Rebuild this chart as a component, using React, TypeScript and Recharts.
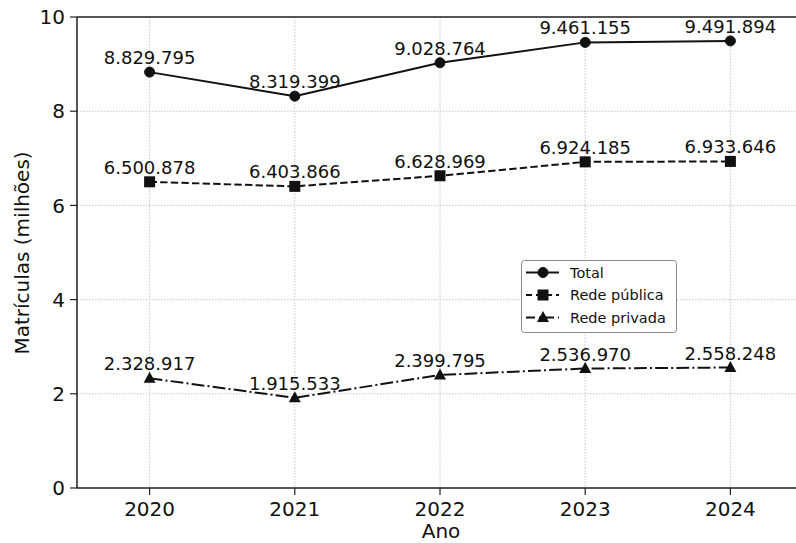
import React from 'react';
import {
  LineChart,
  Line,
  XAxis,
  YAxis,
  CartesianGrid,
  ReferenceLine,
  LabelList,
  Legend,
} from 'recharts';

const years = [2020, 2021, 2022, 2023, 2024];
const total = [8829795, 8319399, 9028764, 9461155, 9491894];
const publica = [6500878, 6403866, 6628969, 6924185, 6933646];
const privada = [2328917, 1915533, 2399795, 2536970, 2558248];
const yTicks = [0, 2, 4, 6, 8, 10];
const seriesNames = ['Total', 'Rede pública', 'Rede privada'];

const data = years.map((y, i) => ({
  year: y,
  total: total[i] / 1e6,
  publica: publica[i] / 1e6,
  privada: privada[i] / 1e6,
  totalRaw: total[i],
  publicaRaw: publica[i],
  privadaRaw: privada[i],
}));

const FONT = '"DejaVu Sans", sans-serif';
const INK = '#111';

const fmt = (v: number) => String(Math.round(v)).replace(/\B(?=(\d{3})+(?!\d))/g, '.');

const dashFor: Record<string, string | undefined> = {
  total: undefined,
  publica: '7.4 3.2',
  privada: '12.8 3.2 2 3.2',
};

const Marker = ({ kind, cx, cy }: { kind: string; cx: number; cy: number }) => {
  if (kind === 'total') return <circle cx={cx} cy={cy} r={5} fill={INK} stroke={INK} />;
  if (kind === 'publica')
    return <rect x={cx - 5.5} y={cy - 5.5} width={11} height={11} fill={INK} />;
  return (
    <polygon
      points={`${cx},${cy - 6.5} ${cx + 6},${cy + 4.5} ${cx - 6},${cy + 4.5}`}
      fill={INK}
    />
  );
};

const makeDot = (kind: string) => (props: any) => {
  const { cx, cy, index } = props;
  if (cx == null || cy == null) return <g key={`${kind}-${index}`} />;
  return (
    <g key={`${kind}-${index}`}>
      <Marker kind={kind} cx={cx} cy={cy} />
    </g>
  );
};

const makeLabel = (props: any) => {
  const { x, y, value, index } = props;
  return (
    <text
      key={index}
      x={x}
      y={y - 8}
      textAnchor="middle"
      fontFamily={FONT}
      fontSize={18}
      fill={INK}
    >
      {fmt(Number(value))}
    </text>
  );
};

const kinds = ['total', 'publica', 'privada'];

const LegendBox = () => (
  <svg width={156} height={74} style={{ display: 'block' }}>
    <rect x={0.5} y={0.5} width={155} height={72} rx={3} fill="#fff" stroke="#888" strokeWidth={1} />
    {kinds.map((k, i) => {
      const cy = 12.5 + i * 22.5;
      return (
        <g key={k}>
          <line
            x1={5}
            x2={38}
            y1={cy}
            y2={cy}
            stroke={INK}
            strokeWidth={2}
            strokeDasharray={k === 'total' ? undefined : k === 'publica' ? '6 4' : '9 4 2 4'}
          />
          <Marker kind={k} cx={22} cy={cy} />
          <text x={49} y={cy + 5} fontFamily={FONT} fontSize={14.5} fill={INK}>
            {seriesNames[i]}
          </text>
        </g>
      );
    })}
  </svg>
);

export default function App() {
  return (
    <div
      style={{
        position: 'absolute',
        left: 0,
        top: 0,
        width: 796,
        height: 543,
        overflow: 'hidden',
        background: '#fff',
      }}
    >
      <LineChart
        width={820}
        height={543}
        data={data}
        margin={{ top: 17, right: 17, bottom: 0, left: 0 }}
      >
        <CartesianGrid stroke="#c8c8c8" strokeDasharray="1.5 1.5" strokeWidth={1} />
        <XAxis
          dataKey="year"
          type="number"
          domain={[2019.5, 2024.5]}
          ticks={years}
          allowDataOverflow
          height={55}
          tickSize={7}
          tickMargin={7}
          axisLine={{ stroke: '#222', strokeWidth: 1.5 }}
          tickLine={{ stroke: '#222', strokeWidth: 1.2 }}
          tick={{ fontFamily: FONT, fontSize: 20, fill: INK }}
          label={(p: any) => {
            const vb = p.viewBox || {};
            return (
              <text
                x={vb.x + vb.width / 2 - (803 - 77) / 2 + (441 - 77)}
                y={538}
                textAnchor="middle"
                fontFamily={FONT}
                fontSize={20}
                fill={INK}
              >
                Ano
              </text>
            );
          }}
        />
        <YAxis
          type="number"
          domain={[0, 10]}
          ticks={yTicks}
          width={77}
          tickSize={7}
          tickMargin={5}
          axisLine={{ stroke: '#222', strokeWidth: 1.5 }}
          tickLine={{ stroke: '#222', strokeWidth: 1.2 }}
          tick={{ fontFamily: FONT, fontSize: 20, fill: INK }}
          label={() => (
            <text
              x={22}
              y={253}
              transform="rotate(-90 22 253)"
              textAnchor="middle"
              dominantBaseline="central"
              fontFamily={FONT}
              fontSize={20}
              fill={INK}
            >
              Matrículas (milhões)
            </text>
          )}
        />
        <ReferenceLine y={10} stroke="#222" strokeWidth={1.5} />
        {kinds.map((k) => (
          <Line
            key={k}
            dataKey={k}
            type="linear"
            stroke={INK}
            strokeWidth={2}
            strokeDasharray={dashFor[k]}
            dot={makeDot(k)}
            activeDot={false}
            isAnimationActive={false}
          >
            <LabelList dataKey={`${k}Raw`} content={makeLabel} />
          </Line>
        ))}
        <Legend
          layout="horizontal"
          verticalAlign="middle"
          align="center"
          content={() => <LegendBox />}
          wrapperStyle={{ left: 521, top: 260, width: 156, height: 74 }}
        />
      </LineChart>
    </div>
  );
}
